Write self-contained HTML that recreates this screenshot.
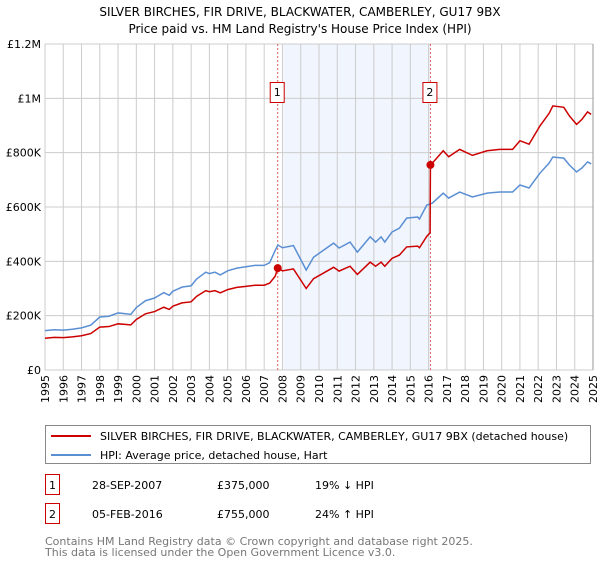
<!DOCTYPE html>
<html><head><meta charset="utf-8"><style>
body{margin:0;background:#fff;width:600px;height:560px;overflow:hidden;font-family:"DejaVu Sans","Liberation Sans",sans-serif;}
svg text{font-family:"DejaVu Sans","Liberation Sans",sans-serif;}
</style></head><body>
<svg id="c" width="600" height="560" xmlns="http://www.w3.org/2000/svg">
<text x="300" y="16" font-size="12" text-anchor="middle">SILVER BIRCHES, FIR DRIVE, BLACKWATER, CAMBERLEY, GU17 9BX</text>
<text x="300" y="33" font-size="12" text-anchor="middle">Price paid vs. HM Land Registry's House Price Index (HPI)</text>
<g id="plot"></g>
<rect x="45.5" y="425.5" width="545" height="38" fill="#fff" stroke="#888"/>
<line x1="51" y1="436" x2="91" y2="436" stroke="#cc0000" stroke-width="2"/>
<text x="100" y="440" font-size="11">SILVER BIRCHES, FIR DRIVE, BLACKWATER, CAMBERLEY, GU17 9BX (detached house)</text>
<line x1="51" y1="455" x2="91" y2="455" stroke="#5b8fd4" stroke-width="2"/>
<text x="100" y="459" font-size="11">HPI: Average price, detached house, Hart</text>
<rect x="45.5" y="474.5" width="14" height="20" fill="#fff" stroke="#cc0000"/>
<text x="52.5" y="489" font-size="11" text-anchor="middle">1</text>
<text x="92" y="489" font-size="11">28-SEP-2007</text>
<text x="217" y="489" font-size="11">£375,000</text>
<text x="315" y="489" font-size="11">19% ↓ HPI</text>
<rect x="45.5" y="503.5" width="14" height="20" fill="#fff" stroke="#cc0000"/>
<text x="52.5" y="518" font-size="11" text-anchor="middle">2</text>
<text x="92" y="518" font-size="11">05-FEB-2016</text>
<text x="217" y="518" font-size="11">£755,000</text>
<text x="315" y="518" font-size="11">24% ↑ HPI</text>
<text x="45" y="545" font-size="11" fill="#777">Contains HM Land Registry data © Crown copyright and database right 2025.</text>
<text x="45" y="556" font-size="11" fill="#777">This data is licensed under the Open Government Licence v3.0.</text>
</svg>
<script>
const yTicks=[0,200,400,600,800,1000,1200];
const yTickLabels=["£0","£200K","£400K","£600K","£800K","£1M","£1.2M"];
const xTicks=[1995,1996,1997,1998,1999,2000,2001,2002,2003,2004,2005,2006,2007,2008,2009,2010,2011,2012,2013,2014,2015,2016,2017,2018,2019,2020,2021,2022,2023,2024,2025];
const hpiYears=[1995,1995.5,1996,1996.5,1997,1997.5,1998,1998.5,1999,1999.7,2000,2000.5,2001,2001.5,2001.8,2002,2002.5,2003,2003.3,2003.8,2004,2004.3,2004.6,2005,2005.5,2006,2006.5,2007,2007.3,2007.6,2007.75,2008,2008.6,2009.3,2009.7,2010.8,2011.1,2011.7,2012.1,2012.8,2013.1,2013.4,2013.6,2014,2014.4,2014.8,2015.4,2015.5,2015.9,2016.2,2016.8,2017.1,2017.7,2018.4,2019.2,2019.9,2020.6,2021,2021.5,2022.1,2022.6,2022.8,2023.4,2023.7,2024.1,2024.4,2024.7,2024.9];
const hpiValues=[145,148,147,150,155,165,195,198,210,205,230,255,265,285,275,290,305,310,335,360,355,360,350,365,375,380,385,385,395,440,460,450,458,368,415,467,449,471,434,490,471,490,471,508,522,559,563,556,607,614,651,633,655,637,651,655,655,681,670,725,762,784,780,755,729,744,766,759];
const priceYears=[1995,1995.5,1996,1996.5,1997,1997.5,1998,1998.5,1999,1999.7,2000,2000.5,2001,2001.5,2001.8,2002,2002.5,2003,2003.3,2003.8,2004,2004.3,2004.6,2005,2005.5,2006,2006.5,2007,2007.3,2007.6,2007.75,2008,2008.6,2009.3,2009.7,2010.8,2011.1,2011.7,2012.1,2012.8,2013.1,2013.4,2013.6,2014,2014.4,2014.8,2015.4,2015.5,2015.9,2016.08,2016.1,2016.2,2016.8,2017.1,2017.7,2018.4,2019.2,2019.9,2020.6,2021,2021.5,2022.1,2022.6,2022.8,2023.4,2023.7,2024.1,2024.4,2024.7,2024.9];
const priceValues=[117,120,119,122,126,134,158,160,170,166,186,207,215,231,223,235,247,251,271,292,288,292,284,296,304,308,312,312,320,345,375,365,372,300,336,378,364,382,352,397,382,397,382,411,423,453,456,450,492,505,755,761,807,785,812,790,807,812,812,844,831,899,945,972,967,936,904,923,950,941];
const saleYears=[2007.74,2016.1];
const saleValues=[375,755];
const saleLabels=["1","2"];
const L=45,R=593,T=44,B=370;
const xs=y=>L+(y-1995)/30*(R-L);
const ys=v=>B-v/1200*(B-T);
const NS="http://www.w3.org/2000/svg";
const g=document.getElementById('plot');
function mk(t,a){const e=document.createElementNS(NS,t);for(const k in a)e.setAttribute(k,a[k]);g.appendChild(e);return e;}
let sh=mk('rect',{x:xs(2008.05),y:T,width:xs(saleYears[1])-xs(2008.05),height:B-T,fill:'#eef3fc',opacity:0.8});


yTicks.forEach((v,i)=>{
 let l=mk('line',{x1:L,x2:R,y1:ys(v),y2:ys(v),stroke:'#ccc'});
 
 
 let t=mk('text',{x:L-4,y:ys(v)+4,'font-size':11,'text-anchor':'end'});t.textContent=yTickLabels[i];
 
 
});
xTicks.forEach(y=>{
 let l=mk('line',{x1:xs(y),x2:xs(y),y1:T,y2:B,stroke:'#ccc'});
 
 
 let t=mk('text',{x:0,y:0,'font-size':11,'text-anchor':'end',transform:`translate(${xs(y)+4},${B+5}) rotate(-90)`});t.textContent=y;
 
 
});
let ax=mk('line',{x1:R,x2:R,y1:T,y2:B,stroke:'#999'});


saleYears.forEach((y,i)=>{
 let l=mk('line',{x1:xs(y),x2:xs(y),y1:T,y2:B,stroke:'#e06060','stroke-dasharray':'2,2'});
 
 
});
let hp=mk('polyline',{points:hpiYears.map((y,i)=>xs(y)+','+ys(hpiValues[i])).join(' '),fill:'none',stroke:'#5b8fd4','stroke-width':1.5});


let pp=mk('polyline',{points:priceYears.map((y,i)=>xs(y)+','+ys(priceValues[i])).join(' '),fill:'none',stroke:'#cc0000','stroke-width':1.5});


saleYears.forEach((y,i)=>{
 let c=mk('circle',{cx:xs(y),cy:ys(saleValues[i]),r:4,fill:'#cc0000'});
 
 
 let b=mk('rect',{x:xs(y)-7.5,y:82.5,width:14,height:20,fill:'#fff',stroke:'#cc0000'});
 
 
 let t=mk('text',{x:xs(y)-0.5,y:96,'font-size':11,'text-anchor':'middle'});t.textContent=saleLabels[i];
 
 
});
</script>
</body></html>
